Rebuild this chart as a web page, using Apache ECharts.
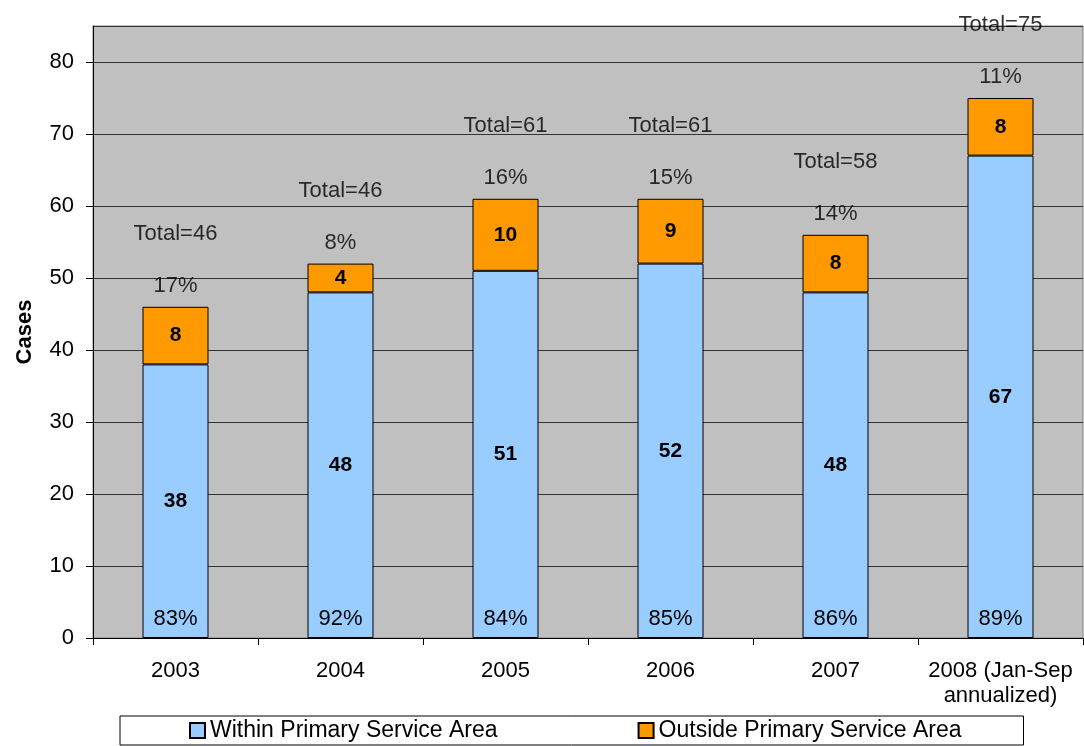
<!DOCTYPE html>
<html>
<head>
<meta charset="utf-8">
<script src="https://cdn.jsdelivr.net/npm/echarts@6/dist/echarts.min.js"></script>
<style>
  html, body { margin: 0; padding: 0; background: #fff; }
  #chart { width: 1084px; height: 746px; }
</style>
</head>
<body>
<div id="chart"></div>
<script>
// data
var years = ['2003', '2004', '2005', '2006', '2007', '2008 (Jan-Sep\nannualized)'];
var within = [38, 48, 51, 52, 48, 67];
var outside = [8, 4, 10, 9, 8, 8];
var totals = [46, 46, 61, 61, 58, 75];
var withinPct = [83, 92, 84, 85, 86, 89];
var outsidePct = [17, 8, 16, 15, 14, 11];

var FONT = '"Liberation Sans", Arial, sans-serif';

var chart = echarts.init(document.getElementById('chart'));

// top of each stack, used to hang the "Total=" / % labels
var tops = within.map(function (v, i) { return v + outside[i]; });

var option = {
  animation: false,
  textStyle: { fontFamily: FONT, color: '#000' },
  grid: {
    left: 93,
    right: 1,
    top: 26,
    bottom: 108,
    show: true,
    backgroundColor: '#c0c0c0',
    borderColor: '#808080',
    borderWidth: 1
  },
  legend: {
    left: 120,
    bottom: 1,
    padding: [3, 62, 3, 69],
    itemGap: 140,
    itemWidth: 15,
    itemHeight: 15,
    borderColor: '#000',
    borderWidth: 1,
    icon: 'rect',
    textStyle: { fontSize: 23, fontFamily: FONT, color: '#000' },
    data: ['Within Primary Service Area', 'Outside Primary Service Area']
  },
  xAxis: {
    type: 'category',
    data: years,
    axisLine: { lineStyle: { color: '#000' } },
    axisTick: { show: true, length: 7, lineStyle: { color: '#000' } },
    axisLabel: {
      fontSize: 22,
      fontFamily: FONT,
      color: '#000',
      margin: 20,
      lineHeight: 25,
      interval: 0
    }
  },
  yAxis: {
    type: 'value',
    min: 0,
    max: 85,
    interval: 10,
    name: 'Cases',
    nameLocation: 'middle',
    nameGap: 57,
    nameTextStyle: { fontSize: 22, fontWeight: 'bold', fontFamily: FONT, color: '#000' },
    axisLine: { show: true, lineStyle: { color: '#000' } },
    axisTick: { show: true, length: 7, lineStyle: { color: '#000' } },
    axisLabel: { fontSize: 22, fontFamily: FONT, color: '#000', margin: 19, showMaxLabel: false },
    splitLine: { lineStyle: { color: '#333', width: 1 } }
  },
  series: [
    {
      name: 'Within Primary Service Area',
      type: 'bar',
      stack: 'cases',
      barWidth: '40%',
      data: within,
      itemStyle: { color: '#99ccff', borderColor: '#000', borderWidth: 1 },
      label: {
        show: true,
        position: 'inside',
        fontSize: 21,
        fontWeight: 'bold',
        fontFamily: FONT,
        color: '#000'
      }
    },
    {
      name: 'Outside Primary Service Area',
      type: 'bar',
      stack: 'cases',
      barWidth: '40%',
      data: outside,
      itemStyle: { color: '#ff9900', borderColor: '#000', borderWidth: 1 },
      label: {
        show: true,
        position: 'inside',
        fontSize: 21,
        fontWeight: 'bold',
        fontFamily: FONT,
        color: '#000'
      }
    },
    {
      // invisible overlay carrying the bottom % labels
      name: 'pctWithin',
      type: 'bar',
      barWidth: '40%',
      barGap: '-100%',
      data: within,
      silent: true,
      z: 5,
      itemStyle: { color: 'rgba(0,0,0,0)' },
      label: {
        show: true,
        position: 'insideBottom',
        distance: 8,
        fontSize: 22,
        fontFamily: FONT,
        color: '#000',
        formatter: function (p) { return withinPct[p.dataIndex] + '%'; }
      }
    },
    {
      // invisible points at the stack tops carrying Total / % labels
      name: 'totals',
      type: 'scatter',
      data: tops,
      symbolSize: 0,
      silent: true,
      label: {
        show: true,
        position: 'top',
        distance: 10,
        formatter: function (p) {
          return '{t|Total=' + totals[p.dataIndex] + '}\n{p|' + outsidePct[p.dataIndex] + '%}';
        },
        rich: {
          t: { fontSize: 22, fontFamily: FONT, color: '#000', lineHeight: 82 },
          p: { fontSize: 22, fontFamily: FONT, color: '#000', lineHeight: 22 }
        }
      }
    }
  ]
};

chart.setOption(option);
</script>
</body>
</html>
